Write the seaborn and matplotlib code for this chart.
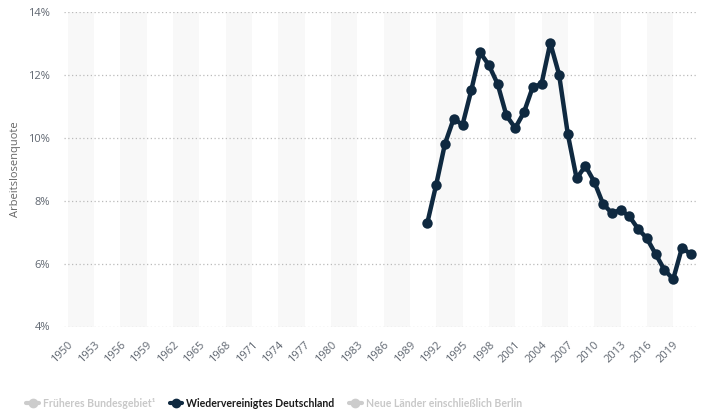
import matplotlib
matplotlib.use("Agg")
import matplotlib.pyplot as plt
from matplotlib.lines import Line2D
import seaborn as sns
import pandas as pd
import numpy as np

years = list(range(1991, 2022))
quote = [7.3, 8.5, 9.8, 10.6, 10.4, 11.5, 12.7, 12.3, 11.7, 10.7, 10.3, 10.8, 11.6, 11.7,
         13.0, 12.0, 10.1, 8.7, 9.1, 8.6, 7.9, 7.6, 7.7, 7.5, 7.1, 6.8, 6.3, 5.8, 5.5, 6.5, 6.3]
xticks = list(range(1950, 2020, 3))
yticks = [4, 6, 8, 10, 12, 14]
legend_labels = ["Früheres Bundesgebiet¹", "Wiedervereinigtes Deutschland",
                 "Neue Länder einschließlich Berlin"]
y_label = "Arbeitslosenquote"

df = pd.DataFrame({"Jahr": years, "Quote": quote})

sns.set_theme(style="white")
plt.rcParams['font.family'] = ['Open Sans', 'DejaVu Sans']

fig = plt.figure(figsize=(7.02, 4.15), dpi=100)
ax = fig.add_axes([64/702, 1-326.5/415, (696-64)/702, (326.5-11.5)/415])

navy = "#0f2940"
sns.lineplot(data=df, x="Jahr", y="Quote", ax=ax, color=navy, linewidth=3.2,
             marker="o", markersize=7.5, markeredgewidth=0)

ax.set_xlim(1949.6, 2021.6)
ax.set_ylim(4, 14)

for start in range(1950, 2021, 6):
    ax.axvspan(start, start + 3, color="#f8f8f8", zorder=0, lw=0)

ax.set_yticks(yticks)
ax.set_yticklabels([f"{v}%" for v in yticks])
ax.set_xticks(xticks)
ax.set_xticklabels([str(v) for v in xticks], rotation=45, ha="right",
                   rotation_mode="anchor")
ax.tick_params(axis="x", length=0, pad=9, labelsize=8, labelcolor="#5f6670")
ax.tick_params(axis="y", length=0, pad=10, labelsize=8, labelcolor="#5f6670")

ax.yaxis.grid(True, linestyle=(0, (1, 2)), color="#bbbbbb", linewidth=0.9)
ax.xaxis.grid(False)
ax.set_axisbelow(True)
for s in ax.spines.values():
    s.set_visible(False)

ax.set_xlabel("")
ax.set_ylabel(y_label, fontsize=8, color="#666666", labelpad=5)

handles = [
    Line2D([0], [0], color="#cccccc", lw=3, marker="o", markersize=6),
    Line2D([0], [0], color=navy, lw=3, marker="o", markersize=6),
    Line2D([0], [0], color="#cccccc", lw=3, marker="o", markersize=6),
]
leg = fig.legend(handles, legend_labels, loc="center", bbox_to_anchor=(274/702, 1-403/415),
                 ncol=3, frameon=False, handlelength=1.2, handletextpad=0.35,
                 columnspacing=1.4,
                 prop={"family": ["Lato", "DejaVu Sans"],
                       "size": 7.6, "weight": "bold"})
for t, c in zip(leg.get_texts(), ["#c8c8c8", "#1a1a1a", "#c8c8c8"]):
    t.set_color(c)

fig.savefig("out.png", dpi=100)
